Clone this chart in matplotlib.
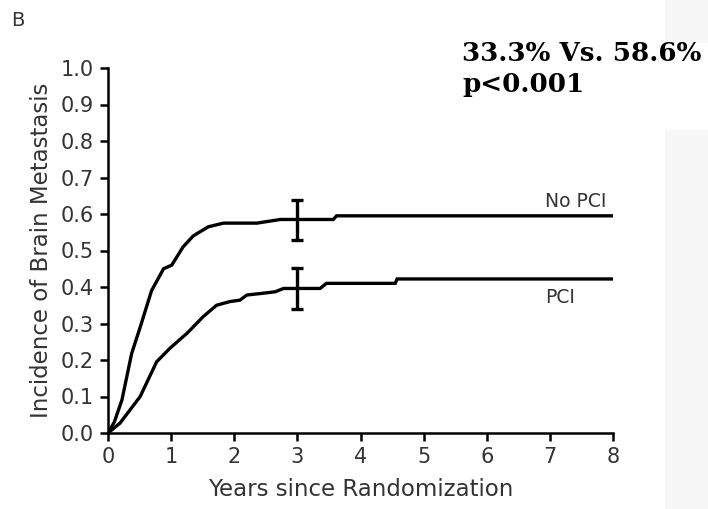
import matplotlib
matplotlib.use("Agg")
import matplotlib.pyplot as plt
from matplotlib.patches import Rectangle

plt.rcParams['font.family'] = ['DejaVu Sans']

# cumulative incidence (step curves)
years_nopci = [0, 0.1, 0.22, 0.375, 0.51, 0.69, 0.88, 1.01, 1.19, 1.35, 1.59, 1.83, 2.36, 2.73, 3.0, 3.57, 3.62, 8.0]
inc_nopci = [0, 0.03, 0.09, 0.218, 0.29, 0.39, 0.45, 0.46, 0.51, 0.54, 0.565, 0.575, 0.575, 0.585, 0.585, 0.585, 0.595, 0.595]

years_pci = [0, 0.19, 0.51, 0.77, 0.98, 1.25, 1.51, 1.72, 1.93, 2.09, 2.2, 2.46, 2.65, 2.78, 3.36, 3.46, 4.55, 4.58, 8.0]
inc_pci = [0, 0.027, 0.1, 0.195, 0.232, 0.273, 0.319, 0.35, 0.36, 0.364, 0.378, 0.383, 0.387, 0.396, 0.396, 0.41, 0.41, 0.422, 0.422]

# 3-year estimates with confidence bars
err_x = [3, 3]
err_mid = [0.585, 0.396]
err_lo = [0.529, 0.34]
err_hi = [0.638, 0.451]

labels = ['No PCI', 'PCI']
label_y = [0.634, 0.37]

fig = plt.figure(figsize=(7.08, 5.09), dpi=100)
# faint grey strip at the right edge of the scan
fig.patches.append(Rectangle((665 / 708, 0), 43 / 708, 1, transform=fig.transFigure,
                             facecolor='#f7f7f7', edgecolor='none', zorder=0))
fig.patches.append(Rectangle((455 / 708, 1 - 130 / 509), 253 / 708, 87 / 509,
                             transform=fig.transFigure, facecolor='white',
                             edgecolor='none', zorder=0))

ax = fig.add_axes([108 / 708, 1 - 433 / 509, 505 / 708, 365 / 509])
ax.patch.set_alpha(0)

ax.plot(years_nopci, inc_nopci, color='black', lw=2.4, solid_joinstyle='miter')
ax.plot(years_pci, inc_pci, color='black', lw=2.4, solid_joinstyle='miter')

for x, m, lo, hi in zip(err_x, err_mid, err_lo, err_hi):
    ax.errorbar(x, m, yerr=[[m - lo], [hi - m]], fmt='none', ecolor='black',
                elinewidth=2.4, capsize=4, capthick=2.4)

for lab, y in zip(labels, label_y):
    ax.text(6.93, y, lab, fontsize=13.5, color='#333333', va='center', ha='left')

ax.set_xlim(0, 8)
ax.set_ylim(0, 1.0)
ax.set_xticks(range(0, 9))
ax.set_yticks([i / 10 for i in range(11)])
ax.set_yticklabels([f'{i / 10:.1f}' for i in range(11)])
ax.spines['top'].set_visible(False)
ax.spines['right'].set_visible(False)
for s in ['left', 'bottom']:
    ax.spines[s].set_linewidth(1.8)
ax.tick_params(direction='out', length=6, width=1.8, labelsize=15,
               labelcolor='#333333', pad=4)
ax.set_xlabel('Years since Randomization', fontsize=16.5, color='#333333', labelpad=8)
ax.set_ylabel('Incidence of Brain Metastasis', fontsize=16.5, color='#333333', labelpad=6)

fig.text(18 / 708, 1 - 20 / 509, 'B', fontsize=14, color='#333333', va='center', ha='center')
fig.text(462 / 708, 1 - 41 / 509, '33.3% Vs. 58.6%\np<0.001', fontsize=18.8,
         family='DejaVu Serif', fontweight='bold', va='top', ha='left',
         linespacing=1.32, transform=fig.transFigure)

fig.savefig('out.png', dpi=100)
